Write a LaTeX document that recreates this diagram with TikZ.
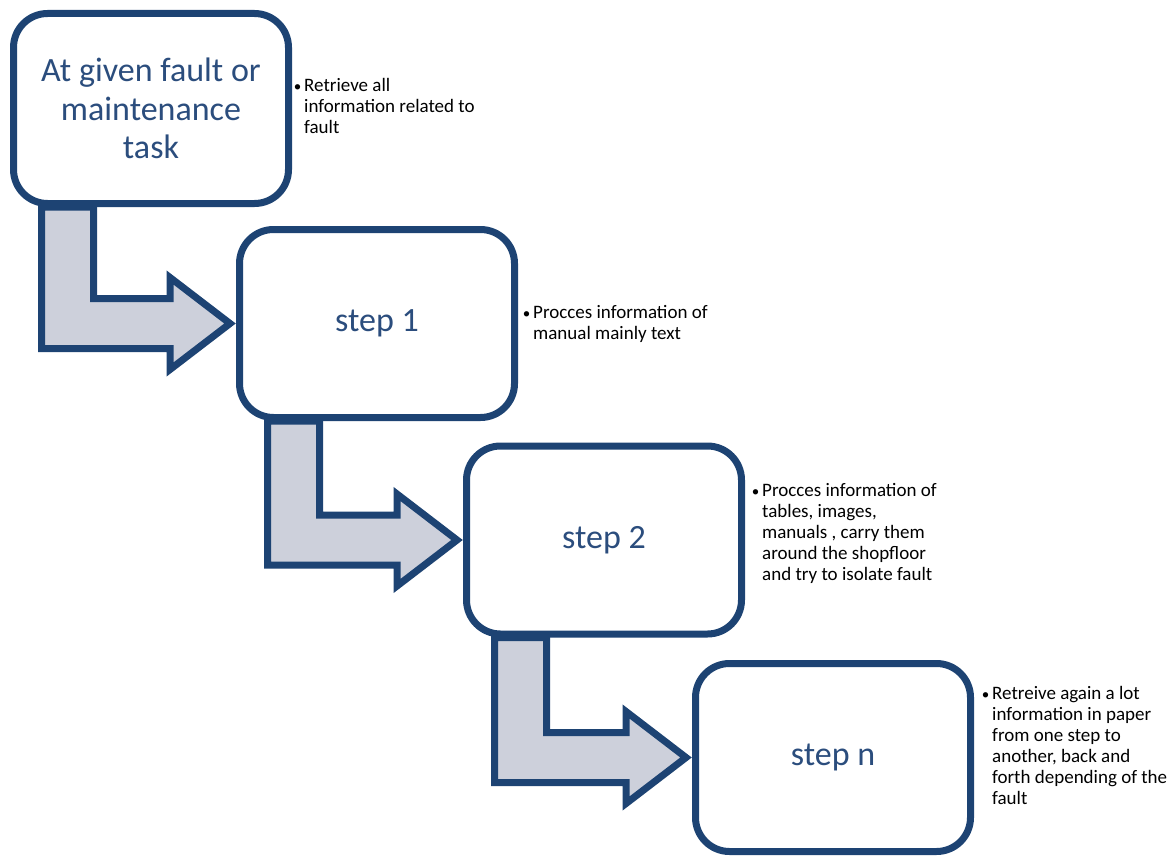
\documentclass[tikz,border=0pt]{standalone}
\usepackage{fontspec}
\setmainfont{Carlito}
\usetikzlibrary{calc,shadows,backgrounds}
\definecolor{bord}{HTML}{1D4373}
\definecolor{afill}{HTML}{CDD0DB}
\definecolor{btext}{HTML}{2B4D7D}
\newcommand\bul[1]{\begin{tabular}[t]{@{}l@{\hspace{3pt}}l@{}}\makebox[7pt][c]{\fontsize{15}{15}\selectfont\textbullet}&\begin{tabular}[t]{@{}l@{}}#1\end{tabular}\end{tabular}}
\newcommand\bentarr[2]{%
  \draw[arr] ($(#1.south west)+(31.5,0)$) |- ($(#2.west)+(-66,-25)$) -- ++(0,-21)
    -- ($(#2.west)+(-6,0)$) -- ($(#2.west)+(-66,46)$) -- ++(0,-21)
    -| ($(#1.south west)+(83.5,0)$) -- cycle;}
\tikzset{
  x=1pt,y=1pt,
  stepbox/.style={draw=bord, line width=7pt, fill=white, rounded corners=34pt,
    minimum width=275pt, minimum height=188pt, inner sep=0pt, align=center,
    text=btext, font=\fontsize{34}{38.5}\selectfont,
    drop shadow={opacity=0.18, shadow xshift=2pt, shadow yshift=-3pt}},
  arr/.style={draw=bord, line width=7pt, fill=afill, line join=miter,
    drop shadow={opacity=0.18, shadow xshift=2pt, shadow yshift=-3pt}},
  note/.style={anchor=base west, inner sep=0pt, align=left,
    font=\fontsize{19}{21}\selectfont, text=black},
}
\begin{document}
\begin{tikzpicture}
\useasboundingbox (0,0) rectangle (1168,-859);
\node[stepbox, minimum height=190pt] (n1) at (151,-108.5) {At given fault or\\maintenance\\task};
\node[stepbox] (n2) at (377,-323.5) {step 1};
\node[stepbox] (n3) at (604,-540) {step 2};
\node[stepbox] (n4) at (833,-757.5) {step n};
\begin{scope}[on background layer]
\bentarr{n1}{n2}
\bentarr{n2}{n3}
\bentarr{n3}{n4}
\end{scope}
\node[note] (t1) at (294,-92) {\bul{Retrieve all\\information related to\\fault}};
\node[note] (t2) at (523,-318) {\bul{Procces information of\\manual mainly text}};
\node[note] (t3) at (752,-496) {\bul{Procces information of\\tables, images,\\manuals , carry them\\around the shopfloor\\and try to isolate fault}};
\node[note] (t4) at (982,-699) {\bul{Retreive again a lot\\information in paper\\from one step to\\another, back and\\forth depending of the\\fault}};
\end{tikzpicture}
\end{document}
